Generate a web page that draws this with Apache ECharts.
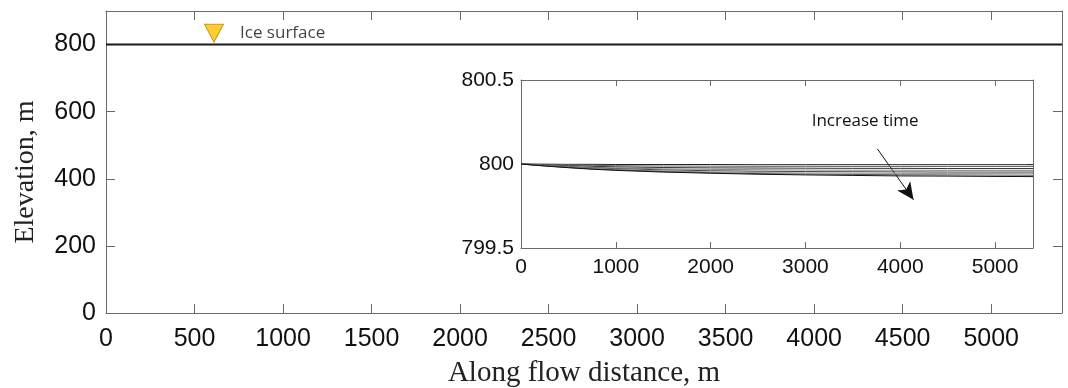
<!DOCTYPE html>
<html>
<head>
<meta charset="utf-8">
<script src="https://cdn.jsdelivr.net/npm/echarts@6/dist/echarts.min.js"></script>
<style>
html,body{margin:0;padding:0;background:#fff;}
#chart{width:1068px;height:388px;}
</style>
</head>
<body>
<div id="chart"></div>
<script>
// ---- data ----
const distance = [0, 250, 500, 750, 1000, 1500, 2000, 2500, 3000, 3500, 4000, 4500, 5000, 5400];
const mainXTicks = [0, 500, 1000, 1500, 2000, 2500, 3000, 3500, 4000, 4500, 5000];
const mainYTicks = [0, 200, 400, 600, 800];
const insetXTicks = [0, 1000, 2000, 3000, 4000, 5000];
const insetYTicks = [799.5, 800, 800.5];
// surface elevation profiles at successive times (m)
const elevT1 = [800, 799.999, 799.998, 799.998, 799.997, 799.997, 799.997, 799.996, 799.996, 799.996, 799.996, 799.996, 799.996, 799.996];
const elevT2 = [800, 799.996, 799.994, 799.992, 799.990, 799.988, 799.987, 799.986, 799.986, 799.985, 799.985, 799.985, 799.985, 799.985];
const elevT3 = [800, 799.994, 799.990, 799.986, 799.983, 799.979, 799.977, 799.976, 799.975, 799.974, 799.974, 799.973, 799.973, 799.973];
const elevT4 = [800, 799.992, 799.986, 799.981, 799.977, 799.971, 799.968, 799.966, 799.964, 799.963, 799.963, 799.962, 799.962, 799.962];
const elevT5 = [800, 799.991, 799.983, 799.977, 799.972, 799.965, 799.960, 799.957, 799.955, 799.954, 799.953, 799.952, 799.952, 799.952];
const elevT6 = [800, 799.990, 799.981, 799.974, 799.968, 799.959, 799.953, 799.949, 799.947, 799.945, 799.944, 799.943, 799.943, 799.942];
const elevT7 = [800, 799.989, 799.979, 799.971, 799.965, 799.955, 799.948, 799.943, 799.940, 799.938, 799.936, 799.935, 799.934, 799.933];
const elevT8 = [800, 799.988, 799.978, 799.969, 799.962, 799.952, 799.945, 799.939, 799.935, 799.932, 799.929, 799.928, 799.926, 799.925];
const profiles = [elevT1, elevT2, elevT3, elevT4, elevT5, elevT6, elevT7, elevT8];
const profileColors = ['#222', '#666', '#333', '#888', '#444', '#999', '#555', '#111'];
const iceMarker = [610, 834];
const iceLabel = 'Ice surface';
const arrowStart = [3760, 800.089];
const arrowEnd = [4140, 799.787];
const arrowText = 'Increase time';
const arrowTextPos = [3630, 800.254];

const pair = (ys) => distance.map((x, i) => [x, ys[i]]);

const axisGray = '#6a6a6a';
const tickFont = 'Liberation Sans, Arial, Helvetica, sans-serif';
const serifFont = 'Liberation Serif, Times New Roman, serif';
const plainNum = (v) => String(v);

function xAx(gridIndex, pos, min, max, interval, showLabel, fs, tickLen, margin, name) {
  return {
    type: 'value', gridIndex, position: pos, min, max, interval,
    axisLine: {show: true, onZero: false, lineStyle: {color: axisGray, width: 1}},
    axisTick: {show: true, inside: true, length: tickLen, lineStyle: {color: axisGray}},
    axisLabel: {show: showLabel, showMaxLabel: false, color: '#111', fontSize: fs, fontFamily: tickFont, margin, formatter: plainNum},
    splitLine: {show: false},
    name: name || '', nameLocation: 'middle', nameGap: 46,
    nameTextStyle: {fontFamily: serifFont, fontSize: 29, color: '#222'}
  };
}
function yAx(gridIndex, pos, min, max, interval, showLabel, fs, tickLen, margin, name) {
  return {
    type: 'value', gridIndex, position: pos, min, max, interval,
    axisLine: {show: true, onZero: false, lineStyle: {color: axisGray, width: 1}},
    axisTick: {show: true, inside: true, length: tickLen, lineStyle: {color: axisGray}},
    axisLabel: {show: showLabel, showMaxLabel: max % interval === 0, color: '#111', fontSize: fs, fontFamily: tickFont, margin, formatter: plainNum},
    splitLine: {show: false},
    name: name || '', nameLocation: 'middle', nameGap: 66,
    nameTextStyle: {fontFamily: serifFont, fontSize: 28, color: '#222', padding: [0, 0, 0, -20]}
  };
}

const chart = echarts.init(document.getElementById('chart'), null, {renderer: 'canvas'});

const series = [];
series.push({
  type: 'line', xAxisIndex: 0, yAxisIndex: 0, data: pair(elevT1), showSymbol: false,
  lineStyle: {color: '#1a1a1a', width: 2}, silent: true, z: 3
});
series.push({
  type: 'scatter', xAxisIndex: 0, yAxisIndex: 0, data: [iceMarker],
  symbol: 'triangle', symbolRotate: 180, symbolSize: [19, 18],
  itemStyle: {color: '#FFBF00', borderColor: '#B8860B', borderWidth: 1},
  label: {show: true, position: 'right', distance: 16, formatter: iceLabel,
    fontFamily: 'Open Sans, Noto Sans, sans-serif', fontSize: 17, color: '#111'},
  silent: true, z: 4
});
profiles.forEach((p, k) => {
  series.push({
    type: 'line', xAxisIndex: 2, yAxisIndex: 2, data: pair(p), showSymbol: false,
    lineStyle: {color: profileColors[k], width: 1}, silent: true, z: 7,
    markLine: k === 0 ? {
      silent: true, symbol: ['none', 'arrow'], symbolSize: [12, 17],
      lineStyle: {color: '#111', width: 1, type: 'solid'}, label: {show: false},
      data: [[{coord: arrowStart}, {coord: arrowEnd}]]
    } : undefined,
    markPoint: k === 0 ? {
      silent: true, symbol: 'circle', symbolSize: 0,
      label: {show: true, formatter: arrowText, position: 'inside',
        fontFamily: 'Open Sans, Noto Sans, sans-serif', fontSize: 17, color: '#111'},
      data: [{coord: arrowTextPos}]
    } : undefined
  });
});

chart.setOption({
  animation: false,
  backgroundColor: '#fff',
  grid: [
    {left: 106, top: 11, right: 6, bottom: 75, show: false, containLabel: false, outerBoundsMode: 'none'},
    {left: 521, top: 80, right: 35, bottom: 140, show: true, backgroundColor: '#fff', borderWidth: 0, z: 5, containLabel: false, outerBoundsMode: 'none'}
  ],
  xAxis: [
    xAx(0, 'bottom', mainXTicks[0], 5400, mainXTicks[1] - mainXTicks[0], true, 25, 9, 14, 'Along flow distance, m'),
    xAx(0, 'top', mainXTicks[0], 5400, mainXTicks[1] - mainXTicks[0], false, 25, 9, 14),
    Object.assign(xAx(1, 'bottom', insetXTicks[0], 5400, insetXTicks[1] - insetXTicks[0], true, 21, 6, 9), {z: 6}),
    Object.assign(xAx(1, 'top', insetXTicks[0], 5400, insetXTicks[1] - insetXTicks[0], false, 21, 6, 9), {z: 6})
  ],
  yAxis: [
    yAx(0, 'left', mainYTicks[0], 900, mainYTicks[1] - mainYTicks[0], true, 25, 9, 10, 'Elevation, m'),
    yAx(0, 'right', mainYTicks[0], 900, mainYTicks[1] - mainYTicks[0], false, 25, 9, 10),
    Object.assign(yAx(1, 'left', insetYTicks[0], insetYTicks[2], insetYTicks[1] - insetYTicks[0], true, 21, 6, 7), {z: 6}),
    Object.assign(yAx(1, 'right', insetYTicks[0], insetYTicks[2], insetYTicks[1] - insetYTicks[0], false, 21, 6, 7), {z: 6})
  ],
  series: series
});
</script>
</body>
</html>
